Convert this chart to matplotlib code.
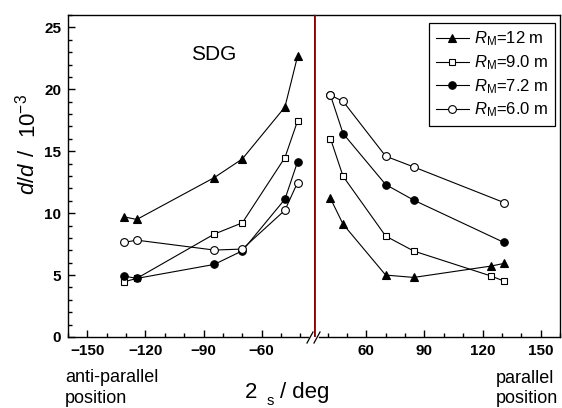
import matplotlib
matplotlib.use("Agg")
import matplotlib.pyplot as plt
from matplotlib.lines import Line2D
from matplotlib.ticker import MultipleLocator

# bold by default so tick labels come out bold; other texts ask for normal
plt.rcParams.update({
    "font.family": "Liberation Sans",
    "font.weight": "bold",
    "mathtext.fontset": "custom",
    "mathtext.rm": "Liberation Sans:normal",
    "mathtext.it": "Liberation Sans:italic:normal",
    "mathtext.bf": "Liberation Sans:bold",
    "axes.linewidth": 1.0,
})

# 2theta_s (deg) for each branch
x_anti = [-131, -124.5, -84.5, -70, -48, -41.5]
x_par6 = [41.5, 48, 70, 84.5, 124.5, 131]
x_par5 = [41.5, 48, 70, 84.5, 131]

# d(theta)/theta in units of 1e-3
y12_anti = [9.70, 9.49, 12.87, 14.38, 18.57, 22.66]
y12_par = [11.19, 9.11, 5.00, 4.81, 5.73, 5.94]
y9_anti = [4.46, 4.73, 8.31, 9.22, 14.49, 17.44]
y9_par = [16.02, 12.98, 8.15, 6.94, 4.92, 4.52]
y72_anti = [4.92, 4.73, 5.86, 6.96, 11.13, 14.14]
y72_par = [19.52, 16.43, 12.31, 11.05, 7.64]
y6_anti = [7.64, 7.82, 7.02, 7.10, 10.24, 12.47]
y6_par = [19.52, 19.03, 14.60, 13.73, 10.86]

labels = [r"$R_{\mathrm{M}}$=12 m", r"$R_{\mathrm{M}}$=9.0 m",
          r"$R_{\mathrm{M}}$=7.2 m", r"$R_{\mathrm{M}}$=6.0 m"]

yticks = [0, 5, 10, 15, 20, 25]
xticks_anti = [-150, -120, -90, -60]
xticks_par = [60, 90, 120, 150]

W, H = 562, 408
fig = plt.figure(figsize=(W / 100, H / 100), dpi=100)


def fx(px):
    return px / W


def fy(py):
    return 1 - py / H


ax_l = fig.add_axes([fx(68), fy(337), fx(246), (337 - 15) / H])
ax_r = fig.add_axes([fx(314), fy(337), fx(246), (337 - 15) / H])

styles = [
    dict(marker="^", ms=6.2, mfc="black", mec="black"),
    dict(marker="s", ms=4.8, mfc="white", mec="black"),
    dict(marker="o", ms=5.4, mfc="black", mec="black"),
    dict(marker="o", ms=5.6, mfc="white", mec="black"),
]
anti = [(x_anti, y12_anti), (x_anti, y9_anti), (x_anti, y72_anti), (x_anti, y6_anti)]
par = [(x_par6, y12_par), (x_par6, y9_par), (x_par5, y72_par), (x_par5, y6_par)]

for (xa, ya), (xp, yp), st, lab in zip(anti, par, styles, labels):
    ax_l.plot(xa, ya, color="black", lw=0.8, mew=0.8, **st)
    ax_r.plot(xp, yp, color="black", lw=0.8, mew=0.8, label=lab, **st)

ax_l.set_xlim(-160, -33)
ax_r.set_xlim(33, 160)
for ax in (ax_l, ax_r):
    ax.set_ylim(0, 26)
    ax.xaxis.set_minor_locator(MultipleLocator(10))
    ax.tick_params(which="both", direction="in", top=False, right=False)
    ax.tick_params(which="major", length=5, width=1.0, labelsize=11, pad=5)
    ax.tick_params(which="minor", length=3, width=1.0)

ax_l.set_xticks(xticks_anti)
ax_r.set_xticks(xticks_par)
ax_l.set_yticks(yticks)
ax_l.yaxis.set_minor_locator(MultipleLocator(1))

ax_r.tick_params(axis="y", which="both", left=False, labelleft=False)
ax_l.spines["right"].set_visible(False)
ax_r.spines["left"].set_visible(False)

# axis break on the bottom spine
ax_l.spines["bottom"].set_bounds(-160, -36)
ax_r.spines["bottom"].set_bounds(35.5, 160)
ax_r.axvline(33, color="#8b0000", lw=2.0, zorder=5)
for x0 in (307, 314):
    fig.add_artist(Line2D([fx(x0), fx(x0 + 6)], [fy(343), fy(332)],
                          color="black", lw=0.9))

ax_r.legend(loc="upper right", bbox_to_anchor=(fx(555), fy(23)),
            bbox_transform=fig.transFigure, borderaxespad=0,
            prop={"size": 12, "weight": "normal"}, frameon=True,
            fancybox=False, framealpha=1, edgecolor="black",
            handlelength=2.0, handletextpad=0.3,
            labelspacing=0.3, borderpad=0.4)
ax_r.get_legend().get_frame().set_linewidth(0.9)

txt = dict(fontweight="normal")
fig.text(fx(214), fy(54), "SDG", fontsize=15, ha="center", va="center", **txt)

# y label, pieced together along the left margin
fig.text(fx(28), fy(178), r"$d/d$", fontsize=16, rotation=90,
         ha="center", va="center", **txt)
fig.text(fx(28), fy(153), "/", fontsize=16, rotation=90,
         ha="center", va="center", **txt)
fig.text(fx(28), fy(116), r"10$^{-3}$", fontsize=16, rotation=90,
         ha="center", va="center", **txt)

fig.text(fx(245), fy(398), "2", fontsize=16, va="baseline", **txt)
fig.text(fx(267), fy(405), "s", fontsize=10.5, va="baseline", **txt)
fig.text(fx(280), fy(398), "/ deg", fontsize=16, va="baseline", **txt)

fig.text(fx(65), fy(382), "anti-parallel", fontsize=13, va="baseline", **txt)
fig.text(fx(65), fy(403), "position", fontsize=13, va="baseline", **txt)
fig.text(fx(496), fy(383), "parallel", fontsize=13, va="baseline", **txt)
fig.text(fx(496), fy(403), "position", fontsize=13, va="baseline", **txt)

fig.savefig("out.png", dpi=100)
